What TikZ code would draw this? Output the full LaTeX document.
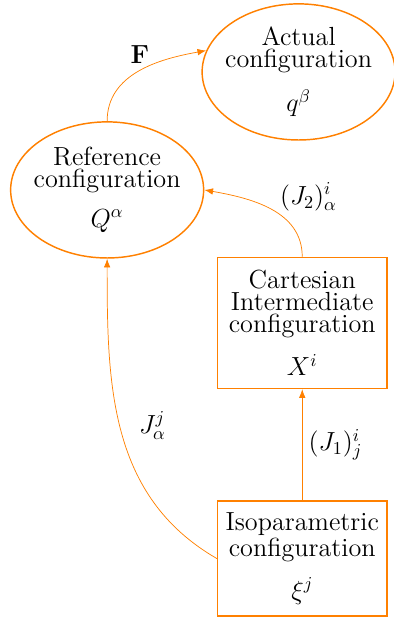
\documentclass[tikz,border=0pt]{standalone}
\usetikzlibrary{arrows.meta,positioning,shapes.geometric}

\begin{document}
\begin{tikzpicture}[
  >=Latex,
  font={\fontsize{14.4}{12}\selectfont},
  % Styles
  config/.style={ellipse, draw=orange, thick, align=center, inner xsep=-1mm,
    inner ysep=0pt, minimum width=3.7cm, minimum height=2.63cm},
  configbox/.style={rectangle, draw=orange, thick, align=center, inner sep=2pt,
    minimum width=3.27cm},
  arrow/.style={->, draw=orange, thin},
]

% === Frame ===
\useasboundingbox (-2.07,3.67) rectangle (5.53,-8.31);

% === Configurations ===
\node[config] (ref) at (0,0) {
  Reference\\configuration\\[8pt]$Q^\alpha$
};
\node[config, minimum width=3.65cm] (actual) at (3.7,2.28) {
  Actual\\configuration\\[8pt]$q^\beta$
};
\node[configbox, minimum height=2.53cm] (cartesian) at (3.77,-2.57) {
  Cartesian\\Intermediate\\ configuration\\[8pt]$X^i$
};
\node[configbox, minimum height=2.22cm, below=2.15cm of cartesian] (iso) {
  Isoparametric\\ configuration\\[8pt]$\xi^j$
};

% === Arrows ===
\draw[arrow] (ref.north) to[out=90, in=190]
  node[pos=0.62, above left=-3pt and -1pt] {$\mathbf{F}$} (actual.167);
\draw[arrow] (cartesian.north) to[out=90, in=-10]
  node[pos=0.4, above right=-1pt and -4pt] {$(J_2)^i_\alpha$} (ref.east);
\draw[arrow] (iso.north) --
  node[midway, right] {$(J_1)^i_j$} (cartesian.south);
\draw[arrow] (iso.west) to[out=150, in=-90]
  node[pos=0.52, right=7pt] {$J^j_\alpha$} (ref.south);

\end{tikzpicture}
\end{document}
